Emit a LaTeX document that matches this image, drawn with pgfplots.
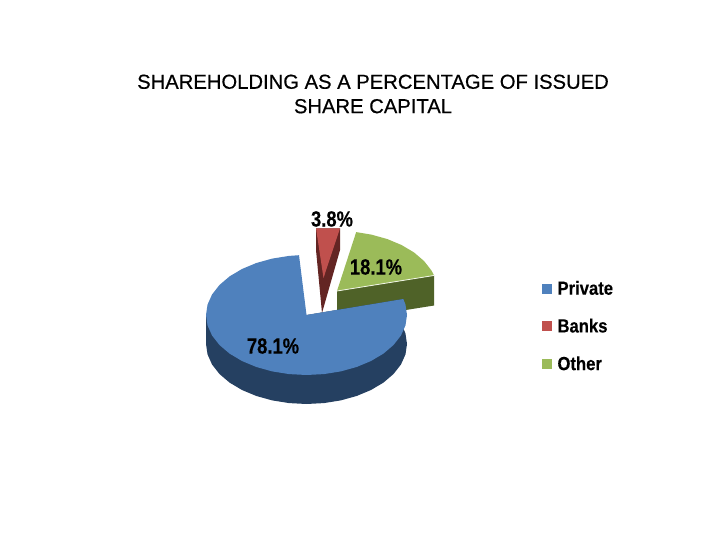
\documentclass[border=0pt]{standalone}
\usepackage{pgfplots}
\pgfplotsset{compat=1.18}
\usepackage{fontspec}
\setmainfont{Liberation Sans}
\newfontfamily\lblfont[FakeStretch=0.84,FakeBold=0.3]{Liberation Sans}
\newfontfamily\legfont[FakeStretch=0.88,FakeBold=0.3]{Liberation Sans}
\newfontfamily\ttlfont[FakeBold=0.5]{Liberation Sans}
\definecolor{blueTop}{HTML}{4F81BD}
\definecolor{blueSide}{HTML}{254061}
\definecolor{redTop}{HTML}{C0504D}
\definecolor{redSide}{HTML}{632523}
\definecolor{greenTop}{HTML}{9BBB59}
\definecolor{greenSide}{HTML}{4F6228}
\pgfplotsset{
    sqlegend/.style={legend image code/.code={
        \fill[##1, draw=none] (0bp,-5bp) rectangle (10bp,5bp);
        \path[draw=none, fill=none] (0bp,0bp) -- (13.5bp,0bp);
    }},
}
\begin{document}
\begin{tikzpicture}[x=1bp,y=1bp]
\useasboundingbox (0,0) rectangle (720,540);
\begin{axis}[
    at={(0,0)}, anchor=south west,
    scale only axis,
    width=720bp, height=540bp,
    xmin=0, xmax=720, ymin=0, ymax=540,
    y dir=reverse,
    axis lines=none,
    clip=false,
    legend cell align=left,
    legend style={
        at={(axis cs:542,279)}, anchor=north west,
        draw=none, fill=none, inner sep=0pt, outer sep=0pt,
        font=\legfont\bfseries\fontsize{19}{22}\selectfont,
        row sep=18.5bp,
    },
]
% legend
\addlegendimage{sqlegend, fill=blueTop}
\addlegendimage{sqlegend, fill=redTop}
\addlegendimage{sqlegend, fill=greenTop}
\legend{Private,Banks,Other}
% other: side then top
\addplot[fill=greenSide, draw=none, forget plot] coordinates {
  (337,291)(434.07,275.47)(434.07,305.5)(337,321)} -- cycle;
\addplot[fill=greenTop, draw=none, forget plot] coordinates {
  (337,291)(434.07,275.47)(431.44,270.48)(424.03,261)(413.99,252.43)(401.6,245.04)
  (387.25,239.04)(371.37,234.62)(356.18,232.1)} -- cycle;
\addplot[color=white!85!greenTop, line width=0.8pt, forget plot] coordinates {(337,291)(434.07,275.47)};
% banks
\addplot[fill=redSide, draw=none, forget plot] coordinates {
  (316,228.3)(340,228.3)(340,250)(322,313)(316,250)} -- cycle;
\addplot[fill=redTop, draw=none, forget plot] coordinates {
  (316,228.3)(340,228.3)(323.5,278)} -- cycle;
% private: side then top
\addplot[fill=blueSide, draw=none, forget plot] coordinates {
  (206,315)(206,344)(207.53,354.42)(212.06,364.52)(219.47,374)(229.51,382.57)
  (241.9,389.96)(256.25,395.96)(272.13,400.38)(289.05,403.09)(306.5,404)
  (323.95,403.09)(340.87,400.38)(356.75,395.96)(371.1,389.96)(383.49,382.57)
  (393.53,374)(400.94,364.52)(405.47,354.42)(407,344)(405.47,333.58)(403.3,328)(403.3,299)(306.5,315)} -- cycle;
\addplot[fill=blueTop, draw=none, forget plot] coordinates {
  (306.5,315)(299,255.2)(289.05,255.91)(272.13,258.62)(256.25,263.04)(241.9,269.04)
  (229.51,276.43)(219.47,285)(212.06,294.48)(207.53,304.58)(206,315)(207.53,325.42)
  (212.06,335.52)(219.47,345)(229.51,353.57)(241.9,360.96)(256.25,366.96)(272.13,371.38)
  (289.05,374.09)(306.5,375)(323.95,374.09)(340.87,371.38)(356.75,366.96)(371.1,360.96)
  (383.49,353.57)(393.53,345)(400.94,335.52)(405.47,325.42)(407,315)(405.47,304.58)(403.3,299)} -- cycle;
% labels
\node[font=\lblfont\bfseries\fontsize{22}{24}\selectfont] at (axis cs:332,219) {3.8\%};
\node[font=\lblfont\bfseries\fontsize{22}{24}\selectfont] at (axis cs:376,267) {18.1\%};
\node[font=\lblfont\bfseries\fontsize{22}{24}\selectfont] at (axis cs:273,346) {78.1\%};
% title
\node[align=center, font=\ttlfont\fontsize{20.3}{24.5}\selectfont] at (axis cs:373,94) {SHAREHOLDING AS A PERCENTAGE OF ISSUED\\SHARE CAPITAL};
\end{axis}
\end{tikzpicture}
\end{document}
